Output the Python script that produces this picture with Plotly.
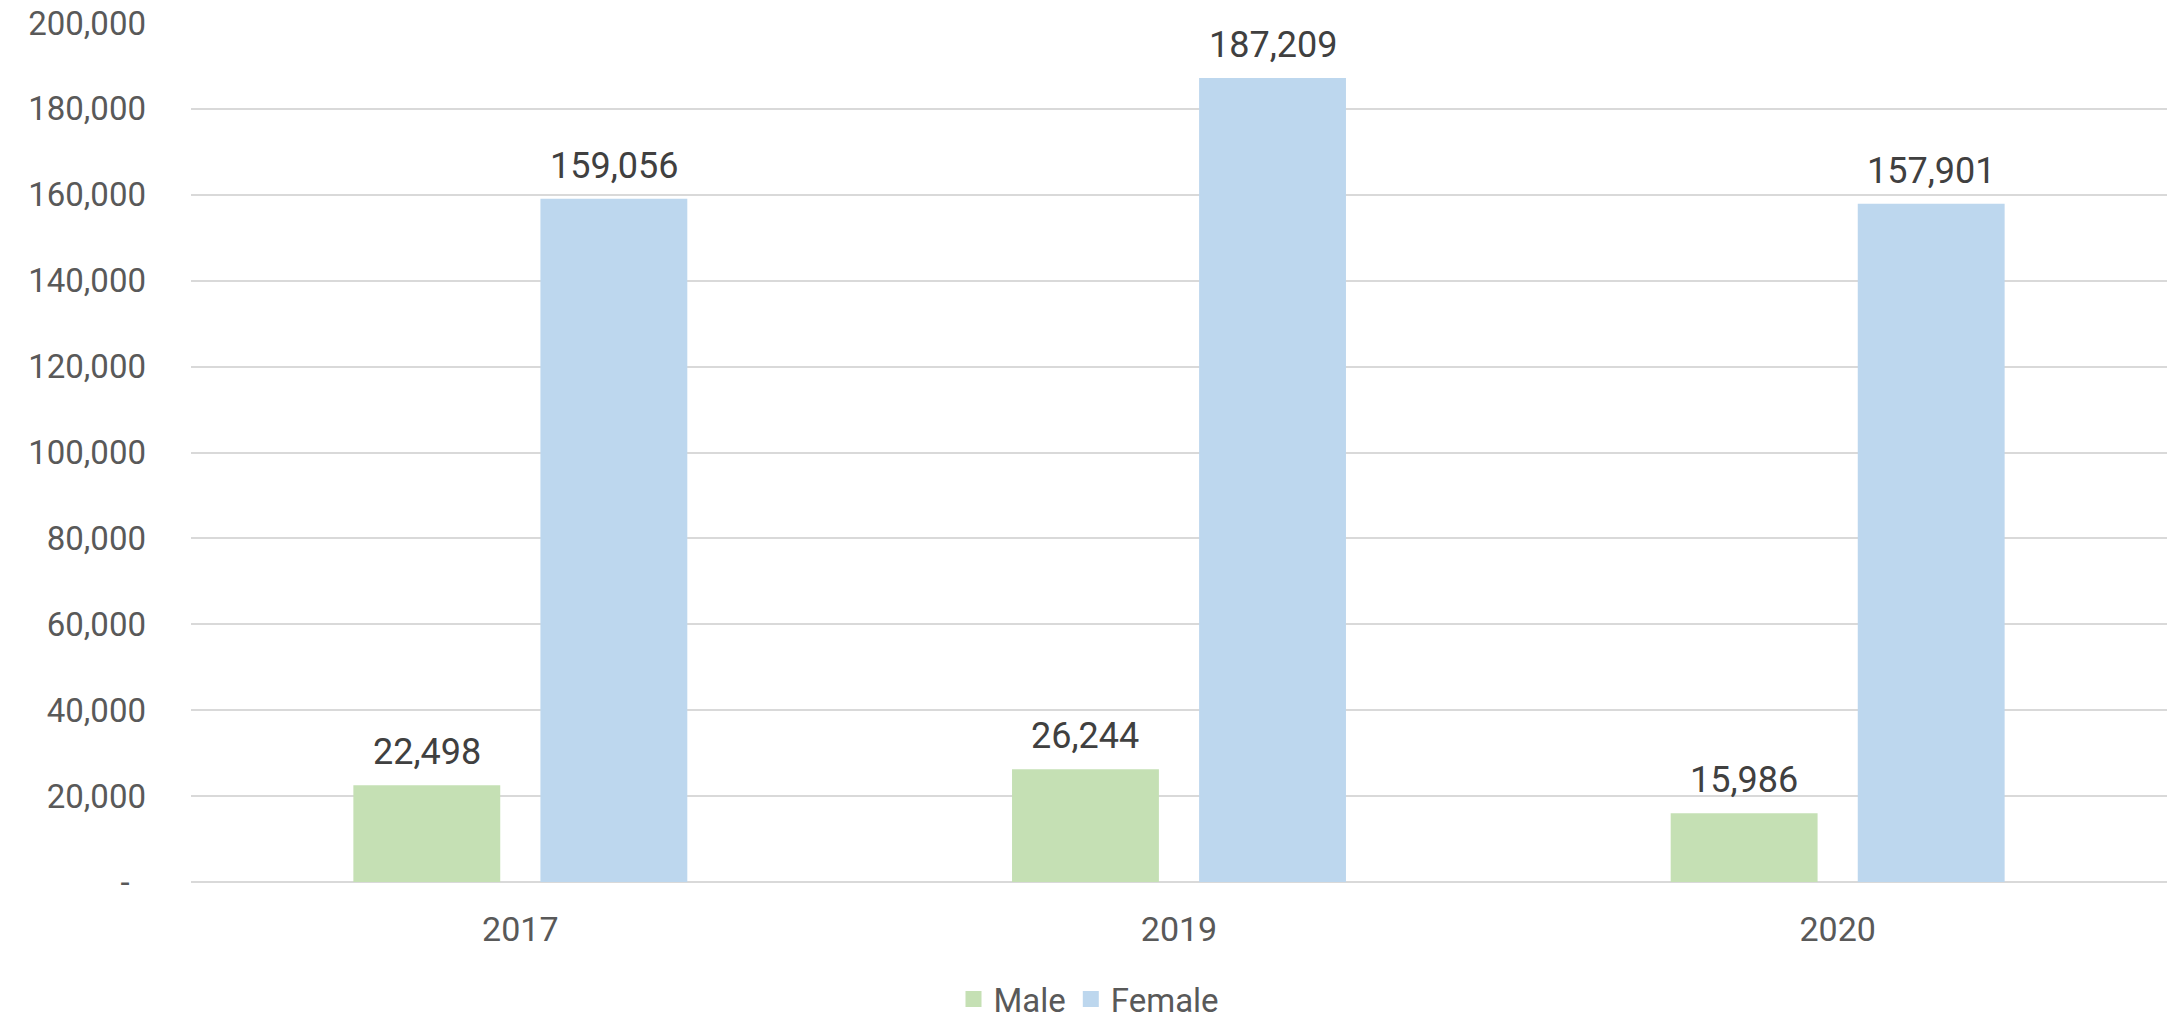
import plotly.graph_objects as go

# Yearly totals by gender
years = ["2017", "2019", "2020"]
male = [22498, 26244, 15986]
female = [159056, 187209, 157901]

y_tickvals = [0, 20000, 40000, 60000, 80000, 100000, 120000, 140000, 160000, 180000, 200000]
y_ticktext = ["-\u00a0\u00a0", "20,000", "40,000", "60,000", "80,000", "100,000",
              "120,000", "140,000", "160,000", "180,000", "200,000"]

FONT = "Roboto, 'DejaVu Sans', sans-serif"
TICK_COLOR = "#595959"
LABEL_COLOR = "#404040"
GRID_COLOR = "#D9D9D9"
MALE_COLOR = "#C5E0B4"
FEMALE_COLOR = "#BDD7EE"

# bar geometry in category units (one category = 1.0)
BAR_W = 0.223
MALE_OFF = -0.2535
FEMALE_OFF = 0.0305

fig = go.Figure()
series = [
    ("Male", male, MALE_COLOR, MALE_OFF),
    ("Female", female, FEMALE_COLOR, FEMALE_OFF),
]
for name, values, color, off in series:
    fig.add_trace(go.Bar(
        name=name, x=years, y=values, width=BAR_W, offset=off,
        marker=dict(color=color, line=dict(width=0)),
        legendgroup=name, showlegend=False,
    ))
    # legend entry with a larger square swatch, tied to the bar trace
    fig.add_trace(go.Scatter(
        name=name, x=[None], y=[None], mode="markers",
        marker=dict(symbol="square", size=21, color=color),
        legendgroup=name, showlegend=True, hoverinfo="skip",
    ))

# value labels above each bar
annotations = []
for name, values, color, off in series:
    for i, v in enumerate(values):
        annotations.append(dict(
            x=i + off + BAR_W / 2, y=v, xref="x", yref="y",
            text=f"{v:,}", showarrow=False,
            xanchor="center", yanchor="bottom", yshift=10,
            font=dict(family=FONT, size=36, color=LABEL_COLOR),
        ))

fig.update_layout(
    width=2178, height=1019,
    margin=dict(l=191, r=11, t=23, b=137, autoexpand=False),
    paper_bgcolor="white", plot_bgcolor="white",
    barmode="overlay",
    font=dict(family=FONT, color=TICK_COLOR),
    showlegend=True,
    legend=dict(
        orientation="h", xref="container", yref="container",
        x=0.5, xanchor="center", y=0.0196, yanchor="middle",
        font=dict(family=FONT, size=33, color=TICK_COLOR),
        itemsizing="trace", itemwidth=30,
    ),
    annotations=annotations,
)

fig.update_xaxes(
    type="category", range=[-0.5, 2.5], automargin=False,
    showgrid=False, showline=False, zeroline=False,
    ticks="", ticklabelstandoff=24,
    tickfont=dict(family=FONT, size=34, color=TICK_COLOR),
)
fig.update_yaxes(
    range=[0, 200000], automargin=False,
    tickvals=y_tickvals, ticktext=y_ticktext,
    showgrid=True, gridcolor=GRID_COLOR, gridwidth=2,
    zeroline=True, zerolinecolor=GRID_COLOR, zerolinewidth=2,
    showline=False, ticks="", ticklabelstandoff=44,
    tickfont=dict(family=FONT, size=33, color=TICK_COLOR),
)

fig.write_html("out.html")
